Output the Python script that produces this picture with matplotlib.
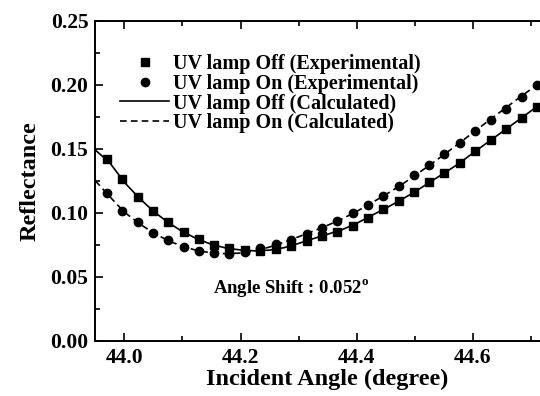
import matplotlib

matplotlib.use("Agg")
import matplotlib.pyplot as plt
from matplotlib.lines import Line2D
from matplotlib.ticker import MultipleLocator

plt.rcParams["font.family"] = ["Liberation Serif", "DejaVu Serif"]
plt.rcParams["font.weight"] = "bold"
plt.rcParams["mathtext.fontset"] = "custom"
plt.rcParams["mathtext.rm"] = "Liberation Serif:bold"

angle_exp = [43.970, 43.996, 44.023, 44.049, 44.076, 44.102, 44.129, 44.155,
             44.181, 44.208, 44.234, 44.261, 44.287, 44.314, 44.340, 44.366,
             44.393, 44.419, 44.446, 44.472, 44.499, 44.525, 44.551, 44.578,
             44.604, 44.631, 44.657, 44.684, 44.710]
refl_off_exp = [0.1418, 0.1260, 0.1126, 0.1015, 0.0924, 0.0849, 0.0792, 0.0747,
                0.0724, 0.0706, 0.0703, 0.0713, 0.0738, 0.0780, 0.0820, 0.0853,
                0.0900, 0.0962, 0.1026, 0.1090, 0.1160, 0.1237, 0.1311, 0.1390,
                0.1479, 0.1567, 0.1652, 0.1740, 0.1830]
refl_on_exp = [0.1155, 0.1015, 0.0927, 0.0843, 0.0784, 0.0734, 0.0698, 0.0685,
               0.0679, 0.0690, 0.0722, 0.0755, 0.0790, 0.0830, 0.0878, 0.0932,
               0.0997, 0.1063, 0.1133, 0.1211, 0.1294, 0.1372, 0.1457, 0.1546,
               0.1639, 0.1728, 0.1814, 0.1905, 0.1995]

# calculated curves
angle_calc = [43.950, 43.975, 44.000, 44.025, 44.050, 44.075, 44.100, 44.125,
              44.150, 44.175, 44.200, 44.225, 44.250, 44.275, 44.300, 44.325,
              44.350, 44.375, 44.400, 44.425, 44.450, 44.475, 44.500, 44.525,
              44.550, 44.575, 44.600, 44.625, 44.650, 44.675, 44.700, 44.725,
              44.750]
refl_off_calc = [0.1490, 0.1390, 0.1238, 0.1117, 0.1012, 0.0925, 0.0853, 0.0796,
                 0.0753, 0.0724, 0.0709, 0.0702, 0.0708, 0.0727, 0.0760, 0.0797,
                 0.0832, 0.0868, 0.0917, 0.0977, 0.1035, 0.1097, 0.1163, 0.1236,
                 0.1308, 0.1381, 0.1466, 0.1548, 0.1630, 0.1712, 0.1795, 0.1878,
                 0.1960]
refl_on_calc = [0.1250, 0.1125, 0.1005, 0.0917, 0.0843, 0.0783, 0.0737, 0.0705,
                0.0686, 0.0680, 0.0685, 0.0702, 0.0732, 0.0770, 0.0812, 0.0856,
                0.0902, 0.0952, 0.1010, 0.1075, 0.1142, 0.1212, 0.1290, 0.1370,
                0.1453, 0.1538, 0.1625, 0.1712, 0.1797, 0.1882, 0.1965, 0.2048,
                0.2130]

labels = ["UV lamp Off (Experimental)", "UV lamp On (Experimental)",
          "UV lamp Off (Calculated)", "UV lamp On (Calculated)"]

fig = plt.figure(figsize=(5.4, 3.96), dpi=100)
# axes run past the right edge of the picture, like the cropped original
ax = fig.add_axes([0.1765, 0.1396, 0.8605, 0.808])

ax.plot(angle_calc, refl_off_calc, color="black", lw=1.2)
ax.plot(angle_calc, refl_on_calc, color="black", lw=1.2, ls=(0, (4, 2.5)))
ax.plot(angle_exp, refl_off_exp, ls="none", marker="s", ms=5.5, color="black")
ax.plot(angle_exp, refl_on_exp, ls="none", marker="o", ms=6, color="black")

ax.set_xlim(43.95, 44.75)
ax.set_ylim(0, 0.25)
ax.xaxis.set_major_locator(MultipleLocator(0.2))
ax.xaxis.set_minor_locator(MultipleLocator(0.1))
ax.yaxis.set_major_locator(MultipleLocator(0.05))
ax.yaxis.set_minor_locator(MultipleLocator(0.025))
ax.xaxis.set_major_formatter(lambda v, p: f"{v:.1f}")
ax.yaxis.set_major_formatter(lambda v, p: f"{v:.2f}")
ax.tick_params(which="both", direction="in", top=True, right=True, width=1.2,
               labelsize=15.5, pad=5)
ax.tick_params(which="major", length=6)
ax.tick_params(which="minor", length=3.5)
for s in ax.spines.values():
    s.set_linewidth(1.4)

ax.set_xlabel("Incident Angle (degree)", fontsize=17.5, fontweight="bold", labelpad=1)
ax.set_ylabel("Reflectance", fontsize=17.5, fontweight="bold", labelpad=7)

ax.text(44.287, 0.041, r"Angle Shift : 0.052$^{\rm o}$", ha="center", va="center",
        fontsize=13.5, fontweight="bold")

handles = [
    Line2D([], [], ls="none", marker="s", ms=5.5, color="black"),
    Line2D([], [], ls="none", marker="o", ms=6, color="black"),
    Line2D([], [], color="black", lw=1.2),
    Line2D([], [], color="black", lw=1.2, ls=(0, (4, 2.5))),
]
ax.legend(handles, labels, loc="upper left", bbox_to_anchor=(0.054, 0.895),
          frameon=False, handlelength=2.4, handletextpad=0.2,
          labelspacing=-0.02, borderpad=0, borderaxespad=0,
          prop={"weight": "bold", "size": 14.5})

fig.savefig("out.png", dpi=100, facecolor="white")
